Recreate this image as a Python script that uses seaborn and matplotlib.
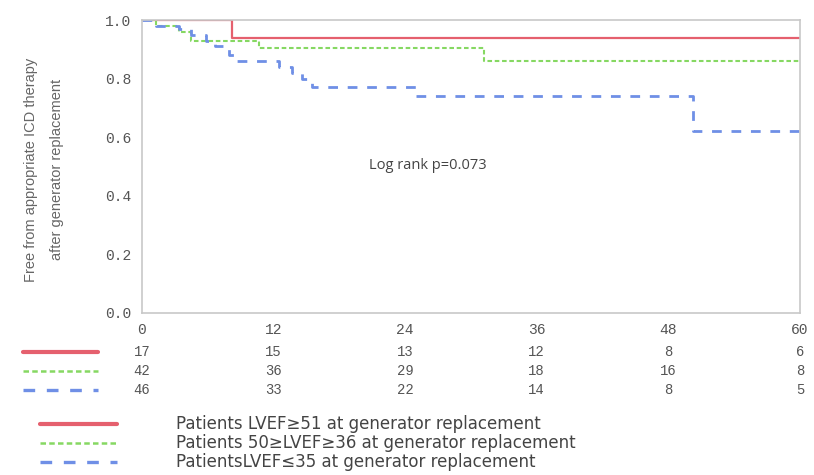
import numpy as np
import pandas as pd
import seaborn as sns
from matplotlib import pyplot as plt
from matplotlib.lines import Line2D

# Kaplan-Meier curves (months, survival)
red_t = [0, 8.2, 60]
red_s = [1.0, 0.94, 0.94]
green_t = [0, 1.3, 3.4, 4.5, 10.7, 31.2, 60]
green_s = [1.0, 0.98, 0.96, 0.93, 0.905, 0.86, 0.86]
blue_t = [0, 1.3, 3.4, 4.5, 5.8, 6.7, 7.9, 8.6, 12.5, 13.7, 14.6, 15.5, 25.0, 50.2, 60]
blue_s = [1.0, 0.98, 0.97, 0.95, 0.93, 0.91, 0.88, 0.86, 0.84, 0.82, 0.80, 0.77, 0.74, 0.62, 0.62]

# numbers at risk
risk_months = [0, 12, 24, 36, 48, 60]
risk_red = [17, 15, 13, 12, 8, 6]
risk_green = [42, 36, 29, 18, 16, 8]
risk_blue = [46, 33, 22, 14, 8, 5]

groups = ["Patients LVEF\u226551 at generator replacement",
          "Patients 50\u2265LVEF\u226536 at generator replacement",
          "PatientsLVEF\u226435 at generator replacement"]
colors = ["#e5606e", "#86d862", "#6f8fe6"]

df = pd.concat([
    pd.DataFrame({"month": red_t, "surv": red_s, "group": groups[0]}),
    pd.DataFrame({"month": green_t, "surv": green_s, "group": groups[1]}),
    pd.DataFrame({"month": blue_t, "surv": blue_s, "group": groups[2]}),
])

sns.set_style("white")
fig = plt.figure(figsize=(8.14, 4.75), dpi=100)
ax = fig.add_axes([142/814, 1 - 313/475, (800-142)/814, 293/475])

sns.lineplot(data=df, x="month", y="surv", hue="group", style="group",
             palette=dict(zip(groups, colors)),
             dashes={groups[0]: "", groups[1]: (2.2, 1.3), groups[2]: (3.5, 3.5)},
             drawstyle="steps-post", estimator=None, sort=False, legend=False, ax=ax)
for ln, lw in zip(ax.get_lines(), [1.6, 1.5, 2.0]):
    ln.set_linewidth(lw)

ax.set_xlim(0, 60)
ax.set_ylim(0, 1.0)
ax.set_xticks(range(0, 61, 12))
ax.set_xticks(range(6, 60, 12), minor=True)
ax.set_yticks(np.arange(0, 1.01, 0.2))
ax.set_yticks(np.arange(0.1, 1.0, 0.2), minor=True)
ax.set_yticklabels(["0.0", "0.2", "0.4", "0.6", "0.8", "1.0"])
ax.tick_params(axis="both", which="both", direction="out", length=3, color="#aaaaaa",
               labelsize=10.5, labelcolor="#555555")
ax.tick_params(axis="x", pad=4)
ax.tick_params(axis="y", pad=5)
for lab in ax.get_xticklabels() + ax.get_yticklabels():
    lab.set_family("Liberation Mono")
for sp in ax.spines.values():
    sp.set_color("#c8c8c8")
    sp.set_linewidth(1.2)
ax.set_xlabel("")
ax.set_ylabel("Free from appropriate ICD therapy\nafter generator replacement",
              fontsize=10.5, color="#666666", family="Liberation Sans",
              linespacing=2.1)
ax.yaxis.set_label_coords(-0.118, 0.49)

ax.text(20.7, 0.505, "Log rank p=0.073", fontsize=10.5, color="#444444",
        family="Open Sans", va="center")

# numbers-at-risk table
tr = ax.get_xaxis_transform()
row_y = [-0.132, -0.198, -0.263]
for rows, yy in zip([risk_red, risk_green, risk_blue], row_y):
    for m, n in zip(risk_months, rows):
        ax.text(m, yy, str(n), transform=tr, ha="center", va="center",
                fontsize=10, color="#555555", family="Liberation Mono", clip_on=False)

dash_styles = ["-", (0, (2.2, 1.3)), (0, (3.5, 3.5))]
widths = [3.0, 1.8, 2.4]
for i, yp in enumerate([352, 371, 390]):
    yf = 1 - yp / 475
    fig.add_artist(Line2D([23/814, 98/814], [yf, yf], color=colors[i],
                          linestyle=dash_styles[i], linewidth=widths[i]))

for i, yp in enumerate([424, 443, 462]):
    yf = 1 - yp / 475
    fig.add_artist(Line2D([40/814, 117/814], [yf, yf], color=colors[i],
                          linestyle=dash_styles[i], linewidth=widths[i]))
    fig.text(176/814, yf, groups[i], fontsize=12, color="#444444",
             family="DejaVu Sans", va="center")

fig.savefig("out.png", dpi=100)
